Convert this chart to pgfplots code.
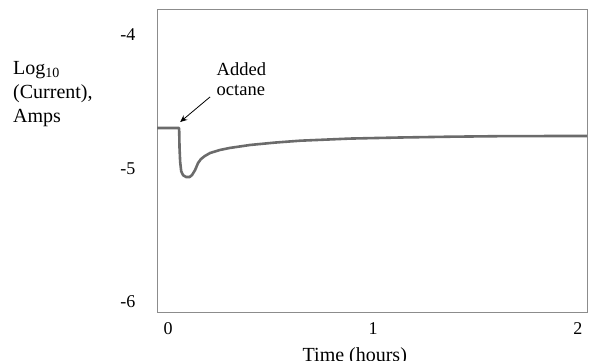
\documentclass[border=0pt]{standalone}
\usepackage{pgfplots}
\pgfplotsset{compat=1.18}
\usetikzlibrary{arrows.meta}
\usepackage{fontspec}
\setmainfont{Liberation Serif}
\begin{document}
\begin{tikzpicture}[x=1bp,y=1bp]
\path[use as bounding box] (0,0) rectangle (594,360);
\begin{axis}[
  at={(157bp,48bp)}, anchor=south west,
  scale only axis, width=430bp, height=302bp,
  xmin=-0.054, xmax=2.044,
  ymin=-6.075, ymax=-3.813,
  axis line style={black!45, line width=1bp},
  major tick length=0pt,
  xtick={0,1,2}, xticklabels={0,1,2},
  ytick={-6,-5,-4}, yticklabels={-6,-5,-4},
  ticklabel style={font=\fontsize{18bp}{21bp}\selectfont},
  yticklabel style={anchor=east, xshift=-18bp},
  xticklabel style={anchor=north, yshift=-7bp},
  xlabel={Time (hours)},
  xlabel style={font=\fontsize{20bp}{24bp}\selectfont, at={(axis description cs:0.460,-0.116)}, anchor=north, inner sep=0pt},
  clip=false,
]
\addplot[black!58, line width=2.6bp, line join=round] coordinates {
(-0.054,-4.697) (0.054,-4.697) (0.056,-4.85) (0.059,-4.95) (0.064,-5.02) (0.073,-5.05) (0.088,-5.064) (0.105,-5.064) (0.117,-5.049) (0.132,-5.011) (0.146,-4.96) (0.160,-4.93) (0.180,-4.906) (0.205,-4.884) (0.254,-4.861) (0.302,-4.846) (0.400,-4.824) (0.522,-4.806) (0.644,-4.792) (0.888,-4.776) (1.132,-4.768) (1.376,-4.762) (1.620,-4.758) (1.863,-4.757) (2.044,-4.757)
};
\draw[-{Stealth[length=7bp,width=6bp]}, line width=0.8bp, black] (axis cs:0.205,-4.464) -- (axis cs:0.059,-4.652);
\end{axis}
\node[anchor=base west, inner sep=0pt, font=\fontsize{18.5bp}{20bp}\selectfont, align=left] at (216.5,265) {Added\\octane};
\node[anchor=base west, inner sep=0pt, font=\fontsize{20bp}{24bp}\selectfont] at (13,286) {Log\textsubscript{10}};
\node[anchor=base west, inner sep=0pt, font=\fontsize{20bp}{24bp}\selectfont] at (13,262) {(Current),};
\node[anchor=base west, inner sep=0pt, font=\fontsize{20bp}{24bp}\selectfont] at (13,238) {Amps};
\end{tikzpicture}
\end{document}
